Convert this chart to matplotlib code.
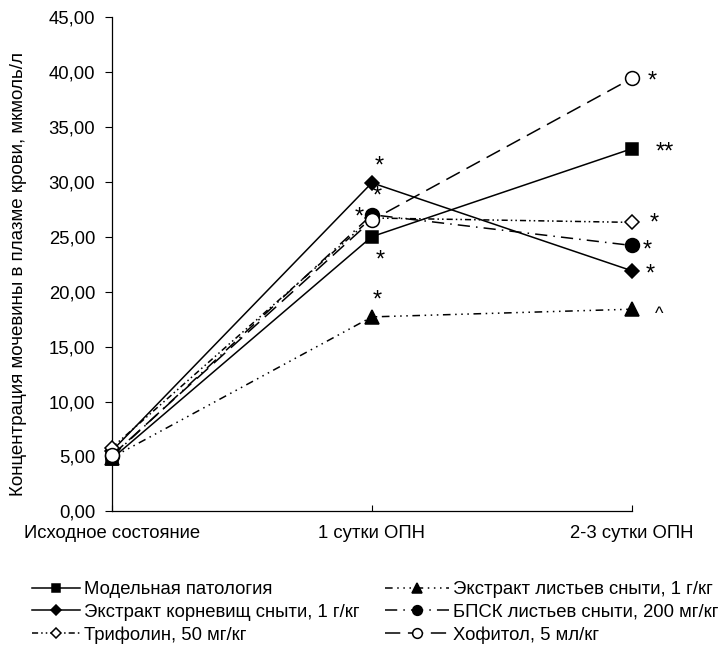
import matplotlib
matplotlib.use("Agg")
import matplotlib.pyplot as plt
from matplotlib.ticker import FuncFormatter

plt.rcParams['font.family'] = ['Liberation Sans', 'DejaVu Sans']

categories = ["Исходное состояние", "1 сутки ОПН", "2-3 сутки ОПН"]
y_ticks = [0, 5, 10, 15, 20, 25, 30, 35, 40, 45]

model = [4.8, 25.0, 33.0]
root_extract = [5.5, 29.9, 21.9]
trifolin = [5.8, 26.7, 26.3]
leaf_extract = [4.9, 17.7, 18.4]
bpsk = [5.0, 27.0, 24.2]
hofitol = [5.1, 26.5, 39.4]

labels = ["Модельная патология",
          "Экстракт корневищ сныти, 1 г/кг",
          "Трифолин, 50 мг/кг",
          "Экстракт листьев сныти, 1 г/кг",
          "БПСК листьев сныти, 200 мг/кг",
          "Хофитол, 5 мл/кг"]

# significance marks: (series index, category index, text)
marks = [
    (1, 1, "*"), (4, 1, "*"), (5, 1, "*"), (0, 1, "*"), (3, 1, "*"),
    (5, 2, "*"), (0, 2, "**"), (2, 2, "*"), (4, 2, "*"), (1, 2, "*"), (3, 2, "^"),
]

series = [model, root_extract, trifolin, leaf_extract, bpsk, hofitol]
styles = [
    dict(ls='-', marker='s', mfc='black', ms=9),
    dict(ls='-', marker='D', mfc='black', ms=7.5),
    dict(ls=(0, (4, 2, 1, 2, 1, 2)), marker='D', mfc='white', ms=7.5),
    dict(ls=(0, (5, 3, 1, 3, 1, 3, 1, 3)), marker='^', mfc='black', ms=10),
    dict(ls=(0, (8, 4, 1, 4)), marker='o', mfc='black', ms=10),
    dict(ls=(0, (10, 5)), marker='o', mfc='white', ms=10),
]

fig = plt.figure(figsize=(7.22, 6.49), dpi=100)
ax = fig.add_axes([0.155, 0.212, 0.72, 0.762])

x = list(range(len(categories)))
handles = []
for vals, st, lab in zip(series, styles, labels):
    h, = ax.plot(x, vals, color='black', lw=1.1, mec='black', mew=1.1,
                 label=lab, clip_on=False, zorder=3, **st)
    handles.append(h)

offsets = {
    (1, 1): (5, 12), (4, 1): (4, 13), (5, 1): (-9, 2), (0, 1): (6, -17), (3, 1): (4, 12),
    (5, 2): (15, -2), (0, 2): (24, -3), (2, 2): (16, -1), (4, 2): (11, -4),
    (1, 2): (13, -3), (3, 2): (20, -4),
}
for si, ci, txt in marks:
    dx, dy = offsets[(si, ci)]
    ax.annotate(txt, xy=(x[ci], series[si][ci]), xytext=(dx, dy),
                textcoords='offset points', ha='center', va='center',
                fontsize=17 if txt != "^" else 13, zorder=4)

ax.set_xlim(0, 2)
ax.set_ylim(0, 45)
ax.set_xticks(x)
ax.set_xticklabels(categories, fontsize=13.3)
ax.set_yticks(y_ticks)
ax.yaxis.set_major_formatter(FuncFormatter(lambda v, p: f"{v:.2f}".replace('.', ',')))
ax.tick_params(axis='y', labelsize=13.3, length=5, width=0.8, direction='out', pad=7)
ax.tick_params(axis='x', length=4, width=0.8, direction='in', pad=10)
for s in ['top', 'right']:
    ax.spines[s].set_visible(False)
for s in ['left', 'bottom']:
    ax.spines[s].set_linewidth(0.9)
ax.set_ylabel("Концентрация мочевины в плазме крови, мкмоль/л", fontsize=13.5)
ax.yaxis.set_label_coords(-0.163, 0.48)

leg_kw = dict(loc='upper left', frameon=False, fontsize=13.3,
              labelspacing=0.3, handletextpad=0.2, markerscale=0.7)
fig.legend(handles=handles[:3], labels=labels[:3], bbox_to_anchor=(0.0213, 0.13),
           handlelength=2.6, **leg_kw)
fig.legend(handles=handles[3:], labels=labels[3:], bbox_to_anchor=(0.510, 0.13),
           handlelength=3.5, **leg_kw)

fig.savefig("out.png", dpi=100)
